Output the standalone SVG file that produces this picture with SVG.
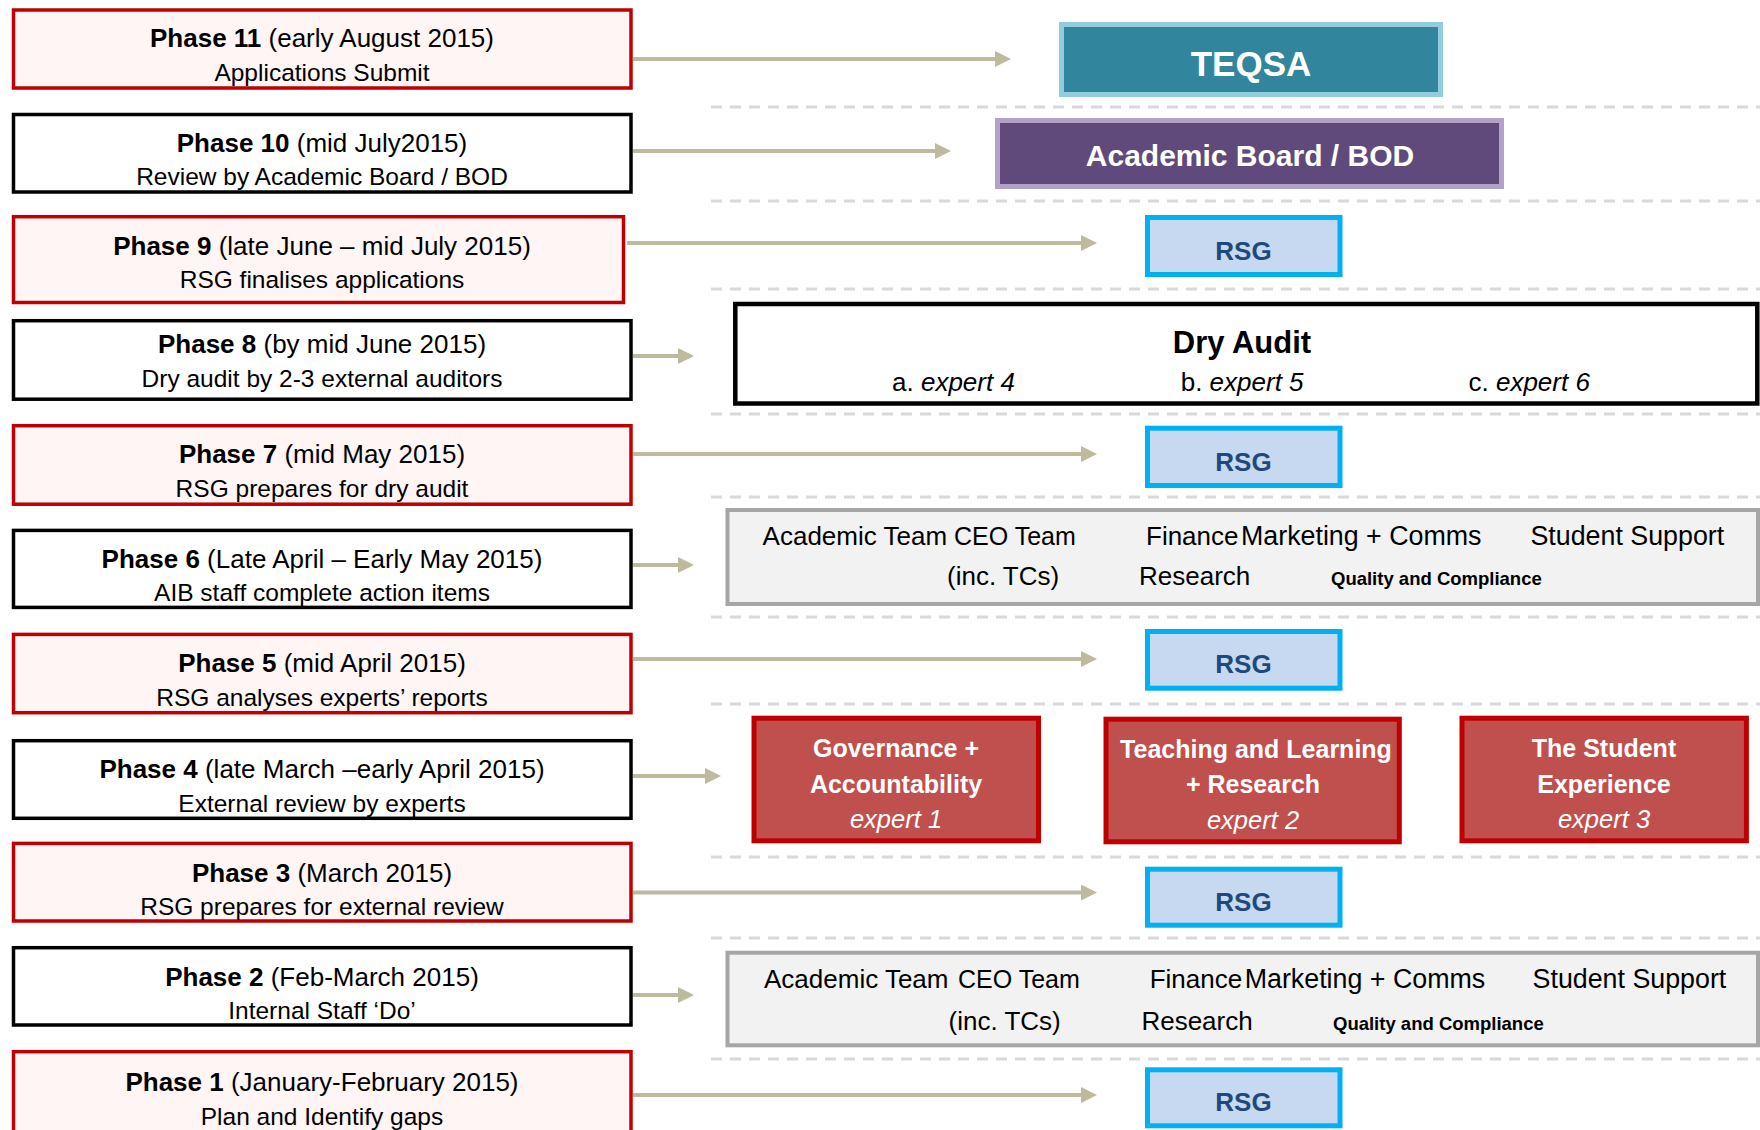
<svg xmlns="http://www.w3.org/2000/svg" width="1760" height="1130" viewBox="0 0 1760 1130">
<defs>
<style>
text { font-family: "Liberation Sans", Arial, sans-serif; }
.ph-red { fill:#FFF5F5; stroke:#C00000; stroke-width:3.5; }
.ph-blk { fill:#FFFFFF; stroke:#000000; stroke-width:3.5; }
.t1 { font-size:26px; text-anchor:middle; fill:#000; }
.b { font-weight:bold; }
.i { font-style:italic; }
.t2 { font-size:24.5px; text-anchor:middle; fill:#000; }
.sep { stroke:#D9D9D9; stroke-width:3; stroke-dasharray:11 8; fill:none; }
.conn { stroke:#BDBA9D; stroke-width:4; fill:none; marker-end:url(#ah); }
.rsg { fill:#C6D9F1; stroke:#00B0F0; stroke-width:5; }
.rsgt { font-size:26px; font-weight:bold; fill:#1F497D; text-anchor:middle; }
.grey { fill:#F2F2F2; stroke:#A6A6A6; stroke-width:4; }
.gt { font-size:26px; fill:#000; }
.gn { font-size:25px; fill:#000; }
.gw { font-size:26.8px; fill:#000; }
.qc { font-size:18.5px; font-weight:bold; fill:#000; }
.red { fill:#C0504D; stroke:#C00000; stroke-width:5; }
.rt { font-size:25px; font-weight:bold; fill:#FFFFFF; text-anchor:middle; }
.ri { font-size:25.5px; font-style:italic; fill:#FFFFFF; text-anchor:middle; }
.da { font-size:26px; fill:#000; }
</style>
<marker id="ah" markerUnits="userSpaceOnUse" markerWidth="16" markerHeight="16" refX="0" refY="8" orient="auto" viewBox="0 0 16 16">
<path d="M0,0 L16,8 L0,16 z" fill="#BDBA9D"/>
</marker>
</defs>

<g id="separators">
<line class="sep" x1="711" y1="107" x2="1760" y2="107"/>
<line class="sep" x1="711" y1="201" x2="1760" y2="201"/>
<line class="sep" x1="711" y1="289" x2="1760" y2="289"/>
<line class="sep" x1="711" y1="414" x2="1760" y2="414"/>
<line class="sep" x1="711" y1="497" x2="1760" y2="497"/>
<line class="sep" x1="711" y1="617" x2="1760" y2="617"/>
<line class="sep" x1="711" y1="704" x2="1760" y2="704"/>
<line class="sep" x1="711" y1="857" x2="1760" y2="857"/>
<line class="sep" x1="711" y1="938" x2="1760" y2="938"/>
<line class="sep" x1="711" y1="1059" x2="1760" y2="1059"/>
</g>

<g id="connectors">
<line class="conn" x1="633" y1="59" x2="995" y2="59"/>
<line class="conn" x1="633" y1="151" x2="935" y2="151"/>
<line class="conn" x1="627" y1="243" x2="1081" y2="243"/>
<line class="conn" x1="633" y1="356" x2="678" y2="356"/>
<line class="conn" x1="633" y1="454" x2="1081" y2="454"/>
<line class="conn" x1="633" y1="565" x2="678" y2="565"/>
<line class="conn" x1="633" y1="659" x2="1081" y2="659"/>
<line class="conn" x1="633" y1="776" x2="705" y2="776"/>
<line class="conn" x1="633" y1="892.5" x2="1081" y2="892.5"/>
<line class="conn" x1="633" y1="995" x2="678" y2="995"/>
<line class="conn" x1="633" y1="1095" x2="1081" y2="1095"/>
</g>

<g id="phase11">
<rect class="ph-red" x="13.5" y="10" width="617.5" height="78"/>
<text class="t1" x="322" y="46.7"><tspan class="b">Phase 11</tspan> (early August 2015)</text>
<text class="t2" x="322" y="81">Applications Submit</text>
</g>
<g id="phase10">
<rect class="ph-blk" x="13.5" y="114.5" width="617.5" height="77.5"/>
<text class="t1" x="322" y="151.7"><tspan class="b">Phase 10</tspan> (mid July2015)</text>
<text class="t2" x="322" y="185">Review by Academic Board / BOD</text>
</g>
<g id="phase9">
<rect class="ph-red" x="13.5" y="216.7" width="610" height="85.8"/>
<text class="t1" x="322" y="255"><tspan class="b">Phase 9</tspan> (late June – mid July 2015)</text>
<text class="t2" x="322" y="288">RSG finalises applications</text>
</g>
<g id="phase8">
<rect class="ph-blk" x="13.5" y="320.7" width="617.5" height="78.5"/>
<text class="t1" x="322" y="353"><tspan class="b">Phase 8</tspan> (by mid June 2015)</text>
<text class="t2" x="322" y="387">Dry audit by 2-3 external auditors</text>
</g>
<g id="phase7">
<rect class="ph-red" x="13.5" y="425.7" width="617.5" height="78.5"/>
<text class="t1" x="322" y="462.7"><tspan class="b">Phase 7</tspan> (mid May 2015)</text>
<text class="t2" x="322" y="496.7">RSG prepares for dry audit</text>
</g>
<g id="phase6">
<rect class="ph-blk" x="13.5" y="530.4" width="617.5" height="77"/>
<text class="t1" x="322" y="567.7"><tspan class="b">Phase 6</tspan> (Late April – Early May 2015)</text>
<text class="t2" x="322" y="600.7">AIB staff complete action items</text>
</g>
<g id="phase5">
<rect class="ph-red" x="13.5" y="634.4" width="617.5" height="78.3"/>
<text class="t1" x="322" y="671.7"><tspan class="b">Phase 5</tspan> (mid April 2015)</text>
<text class="t2" x="322" y="706">RSG analyses experts’ reports</text>
</g>
<g id="phase4">
<rect class="ph-blk" x="13.5" y="740.7" width="617.5" height="77.6"/>
<text class="t1" x="322" y="778"><tspan class="b">Phase 4</tspan> (late March –early April 2015)</text>
<text class="t2" x="322" y="811.7">External review by experts</text>
</g>
<g id="phase3">
<rect class="ph-red" x="13.5" y="843.4" width="617.5" height="77.6"/>
<text class="t1" x="322" y="881.7"><tspan class="b">Phase 3</tspan> (March 2015)</text>
<text class="t2" x="322" y="915">RSG prepares for external review</text>
</g>
<g id="phase2">
<rect class="ph-blk" x="13.5" y="947.7" width="617.5" height="77.3"/>
<text class="t1" x="322" y="986"><tspan class="b">Phase 2</tspan> (Feb-March 2015)</text>
<text class="t2" x="322" y="1019.3">Internal Staff ‘Do’</text>
</g>
<g id="phase1">
<rect class="ph-red" x="13.5" y="1051.7" width="617.5" height="90"/>
<text class="t1" x="322" y="1091"><tspan class="b">Phase 1</tspan> (January-February 2015)</text>
<text class="t2" x="322" y="1125">Plan and Identify gaps</text>
</g>

<g id="teqsa">
<rect x="1061.5" y="24.5" width="379" height="70" fill="#31859C" stroke="#93CDDD" stroke-width="5"/>
<text x="1251" y="76" font-size="35" font-weight="bold" fill="#FFFFFF" text-anchor="middle">TEQSA</text>
</g>
<g id="academic-board">
<rect x="997.5" y="120.5" width="504" height="66" fill="#604A7B" stroke="#B3A2C7" stroke-width="5"/>
<text x="1250" y="166" font-size="30" font-weight="bold" fill="#FFFFFF" text-anchor="middle">Academic Board / BOD</text>
</g>
<g id="rsg-9">
<rect class="rsg" x="1147.5" y="217.5" width="192.5" height="57"/>
<text class="rsgt" x="1243.5" y="259.5">RSG</text>
</g>
<g id="dry-audit">
<rect x="735.3" y="304" width="1022" height="99.5" fill="#FFFFFF" stroke="#000000" stroke-width="4.5"/>
<text x="1242" y="353" font-size="31" font-weight="bold" fill="#000" text-anchor="middle">Dry Audit</text>
<text class="da" x="892" y="391">a. <tspan class="i">expert 4</tspan></text>
<text class="da" x="1180.7" y="391">b. <tspan class="i">expert 5</tspan></text>
<text class="da" x="1468.5" y="391">c. <tspan class="i">expert 6</tspan></text>
</g>
<g id="rsg-7">
<rect class="rsg" x="1147.5" y="428.2" width="192.5" height="57.3"/>
<text class="rsgt" x="1243.5" y="470.5">RSG</text>
</g>
<g id="teams-6">
<rect class="grey" x="727.5" y="510" width="1030.5" height="94"/>
<text class="gt" x="762.6" y="545">Academic Team</text>
<text class="gn" x="954" y="545">CEO Team</text>
<text class="gt" x="1146" y="545">Finance</text>
<text class="gw" x="1241" y="545">Marketing + Comms</text>
<text class="gw" x="1530.5" y="545">Student Support</text>
<text class="gt" x="947" y="585">(inc. TCs)</text>
<text class="gt" x="1139" y="585">Research</text>
<text class="qc" x="1331" y="585">Quality and Compliance</text>
</g>
<g id="rsg-5">
<rect class="rsg" x="1147.5" y="631.5" width="192.5" height="56.7"/>
<text class="rsgt" x="1243.5" y="673.2">RSG</text>
</g>
<g id="expert-governance">
<rect class="red" x="754" y="718.2" width="284.5" height="122.6"/>
<text class="rt" x="896" y="756.7">Governance +</text>
<text class="rt" x="896" y="792.7">Accountability</text>
<text class="ri" x="896" y="827.7">expert 1</text>
</g>
<g id="expert-teaching">
<rect class="red" x="1106" y="719.2" width="293.3" height="122.6"/>
<text class="rt" x="1256" y="758.3">Teaching and Learning</text>
<text class="rt" x="1253" y="793.3">+ Research</text>
<text class="ri" x="1253" y="829.3">expert 2</text>
</g>
<g id="expert-student">
<rect class="red" x="1462" y="718.2" width="284.4" height="122.6"/>
<text class="rt" x="1604" y="756.7">The Student</text>
<text class="rt" x="1604" y="792.7">Experience</text>
<text class="ri" x="1604" y="827.7">expert 3</text>
</g>
<g id="rsg-3">
<rect class="rsg" x="1147.5" y="869.2" width="192.5" height="56"/>
<text class="rsgt" x="1243.5" y="910.5">RSG</text>
</g>
<g id="teams-2">
<rect class="grey" x="727.5" y="952.7" width="1030.5" height="92.6"/>
<text class="gt" x="764" y="988.3">Academic Team</text>
<text class="gn" x="958" y="988.3">CEO Team</text>
<text class="gt" x="1149.7" y="988.3">Finance</text>
<text class="gw" x="1244.7" y="988.3">Marketing + Comms</text>
<text class="gw" x="1532.6" y="988.3">Student Support</text>
<text class="gt" x="948.6" y="1030">(inc. TCs)</text>
<text class="gt" x="1141.4" y="1030">Research</text>
<text class="qc" x="1333" y="1030">Quality and Compliance</text>
</g>
<g id="rsg-1">
<rect class="rsg" x="1147.5" y="1069.8" width="192.5" height="56"/>
<text class="rsgt" x="1243.5" y="1110.5">RSG</text>
</g>
</svg>
